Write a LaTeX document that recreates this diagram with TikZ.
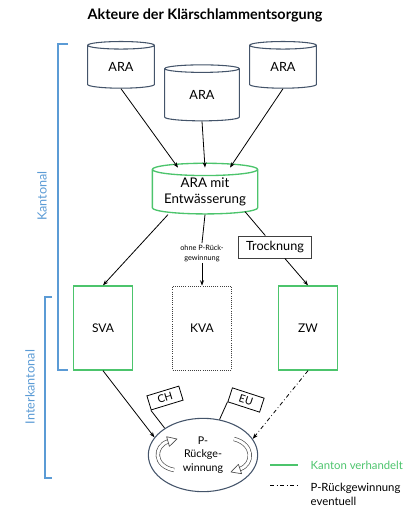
\documentclass[tikz,border=0pt]{standalone}
\usepackage{fontspec}
\setmainfont{Lato}
\usepackage{tikz}
\usetikzlibrary{shapes.geometric,arrows.meta}
\definecolor{kgreen}{RGB}{76,196,108}
\definecolor{kblue}{RGB}{91,155,213}
\definecolor{kslate}{RGB}{68,84,106}

\begin{document}
\begin{tikzpicture}[x=0.75pt,y=-0.75pt,>={Stealth[length=4pt,width=3pt]},
    tank/.style={cylinder, shape border rotate=90, draw=kslate, line width=0.8pt, aspect=0.3, inner sep=0pt},
    plant/.style={rectangle, draw=kgreen, line width=1pt, minimum width=44pt, minimum height=63pt},
    flag/.style={rectangle, draw=black, fill=white, line width=0.6pt, inner sep=1.5pt, minimum width=25pt, minimum height=11pt, font=\fontsize{8}{9}\selectfont},
    turn/.style={draw=black!70, line width=0.5pt, double=white, double distance=2.2pt},
    turnhead/.style={fill=white, draw=black!70, line width=0.5pt, line join=round}]
  \useasboundingbox (0,0) rectangle (414,507);
  % Title
  \node[font=\bfseries\fontsize{10.8}{12}\selectfont] (title) at (205,15) {Akteure der Klärschlammentsorgung};
  % Nodes
  \foreach \i/\x/\y/\w/\h in {1/121/67/50/35, 2/202/95/56/42, 3/283/67/50/35} {
    \node[tank, minimum width=\w pt, minimum height=\h pt, font=\fontsize{9.5}{11}\selectfont] (ara\i) at (\x,\y) {ARA};
  }
  \node[tank, draw=kgreen, line width=1pt, aspect=0.15, minimum width=79pt, minimum height=38pt, align=center, font=\fontsize{10}{11.5}\selectfont] (ent) at (205,192) {ARA mit\\Entwässerung};
  \node[font=\fontsize{5.5}{7.5}\selectfont, align=center, inner sep=1pt] (ohne) at (202,253) {ohne P-Rück-\\gewinnung};
  \node[draw=black!75, line width=0.6pt, minimum width=55pt, minimum height=16.5pt, font=\fontsize{9.5}{11}\selectfont] (troc) at (275,247) {Trocknung};
  \node[plant, font=\fontsize{9}{11}\selectfont] (sva) at (103,328) {SVA};
  \node[plant, draw=black!75, line width=0.6pt, densely dotted, font=\fontsize{9}{11}\selectfont] (kva) at (202,328) {KVA};
  \node[plant, font=\fontsize{9}{11}\selectfont] (zw) at (308,328) {ZW};
  \node[ellipse, draw=kslate, line width=0.8pt, minimum width=82pt, minimum height=55pt, align=center, inner sep=0pt, font=\fontsize{8}{10}\selectfont] (pr) at (203,455) {P-\\Rückge-\\winnung};
  \node[flag, rotate=17] (ch) at (165,398) {CH};
  \node[flag, rotate=-18] (eu) at (246,400) {EU};
  % Edges
  \foreach \source/\dx in {1/-27, 2/0, 3/25} {
    \draw[->, line width=0.6pt] (ara\source.south) -- ([shift={(\dx,5)}]ent.north);
  }
  \draw[->, line width=0.6pt] ([shift={(-37,0)}]ent.south) -- (sva.north);
  \draw[line width=0.6pt] (ent.south) -- (ohne.north);
  \draw[->, line width=0.6pt] (ohne.south) -- (kva.north);
  \draw[line width=0.6pt] ([shift={(40,-3)}]ent.south) -- (troc);
  \draw[->, line width=0.6pt] (troc) -- (zw.north);
  \draw[->, line width=0.6pt] (sva.south) -- (pr.160);
  \draw[->, line width=0.6pt, dash dot] (zw.south) -- (pr.18);
  \draw[line width=0.6pt] (pr.145) -- (ch.south west);
  \draw[line width=0.6pt] (pr.65) -- (eu.south west);
  % circular arrows
  \draw[turn] (174,470) .. controls (153,466) and (154,446) .. (168,441.5);
  \draw[turnhead] (177,439) -- (166.6,436.7) -- (169.4,446.3) -- cycle;
  \draw[turn] (234,439) .. controls (254,444) and (254,464) .. (240,469);
  \draw[turnhead] (231,472) -- (241.6,473.7) -- (238.4,464.3) -- cycle;
  % Brackets
  \draw[kblue, line width=1.2pt] (68,44) -- (58,44) -- (58,370) -- (68,370);
  \draw[kblue, line width=1.2pt] (52,297) -- (45,297) -- (45,478) -- (52,478);
  \node[kblue, rotate=90, font=\fontsize{9.5}{11}\selectfont] (kant) at (42,196) {Kantonal};
  \node[kblue, rotate=90, font=\fontsize{9.5}{11}\selectfont] (inter) at (30,387) {Interkantonal};
  % Legend
  \coordinate (l1a) at (270,465);
  \coordinate (l1b) at (298,465);
  \coordinate (l2a) at (270,485);
  \coordinate (l2b) at (298,485);
  \draw[kgreen, line width=1pt] (l1a) -- (l1b);
  \draw[line width=0.6pt, dash dot] (l2a) -- (l2b);
  \node[kgreen, anchor=west, font=\fontsize{8.5}{10}\selectfont] (lg1) at (306,465) {Kanton verhandelt};
  \node[anchor=north west, align=left, font=\fontsize{8.5}{11}\selectfont] (lg2) at (306,478) {P-Rückgewinnung\\eventuell};
\end{tikzpicture}
\end{document}
